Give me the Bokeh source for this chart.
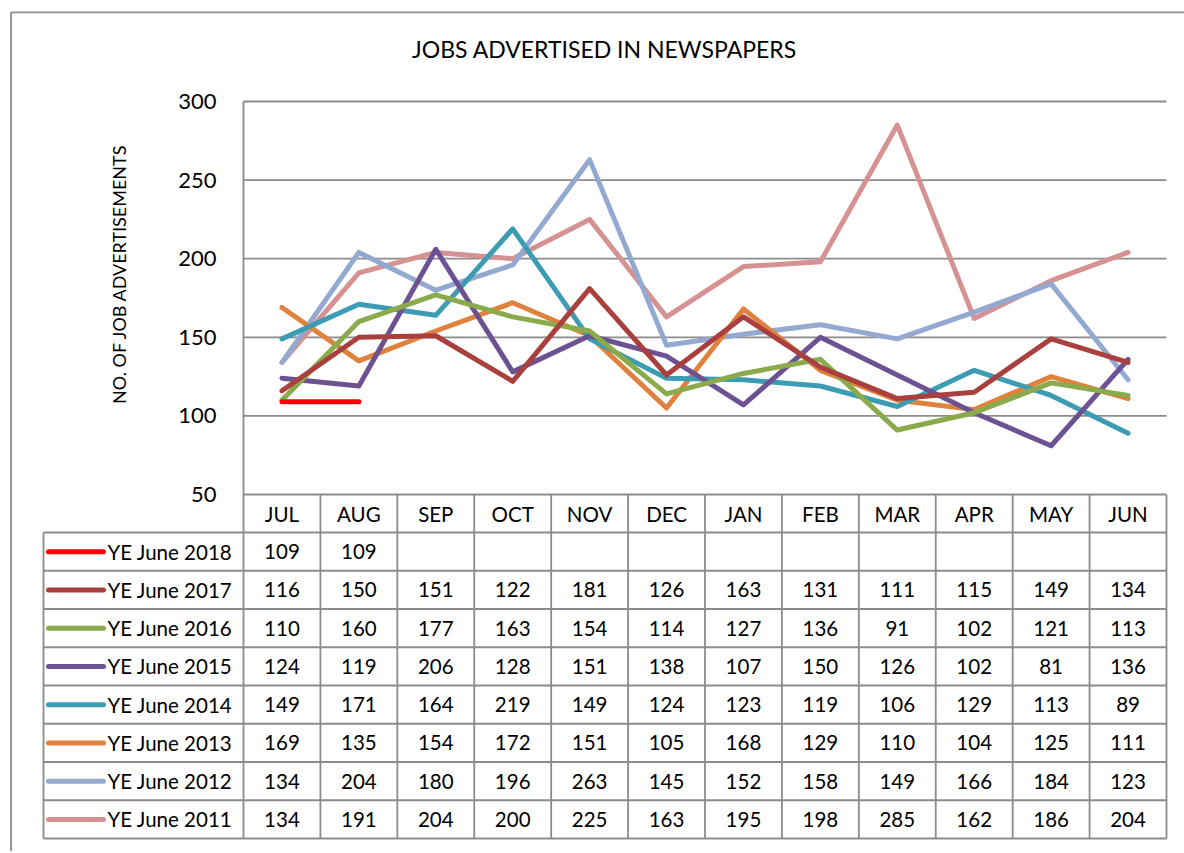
import math
from bokeh.plotting import figure
from bokeh.models import Range1d, ColumnDataSource
from bokeh.embed import file_html
from bokeh.resources import INLINE
from bokeh.core.properties import value

# ---------------- data ----------------
months = ["JUL", "AUG", "SEP", "OCT", "NOV", "DEC", "JAN", "FEB", "MAR", "APR", "MAY", "JUN"]
series_names = ["YE June 2018", "YE June 2017", "YE June 2016", "YE June 2015",
                "YE June 2014", "YE June 2013", "YE June 2012", "YE June 2011"]
ye2018 = [109, 109, None, None, None, None, None, None, None, None, None, None]
ye2017 = [116, 150, 151, 122, 181, 126, 163, 131, 111, 115, 149, 134]
ye2016 = [110, 160, 177, 163, 154, 114, 127, 136, 91, 102, 121, 113]
ye2015 = [124, 119, 206, 128, 151, 138, 107, 150, 126, 102, 81, 136]
ye2014 = [149, 171, 164, 219, 149, 124, 123, 119, 106, 129, 113, 89]
ye2013 = [169, 135, 154, 172, 151, 105, 168, 129, 110, 104, 125, 111]
ye2012 = [134, 204, 180, 196, 263, 145, 152, 158, 149, 166, 184, 123]
ye2011 = [134, 191, 204, 200, 225, 163, 195, 198, 285, 162, 186, 204]
series_values = [ye2018, ye2017, ye2016, ye2015, ye2014, ye2013, ye2012, ye2011]
colors = ["#FF0000", "#A9403D", "#8BAA4B", "#6D5293", "#3C9CB4", "#E0823D", "#93A9D0", "#D69293"]
y_ticks = [50, 100, 150, 200, 250, 300]
chart_title = "JOBS ADVERTISED IN NEWSPAPERS"
y_title = "NO. OF JOB ADVERTISEMENTS"

# ---------------- style / layout (reference pixel geometry) ----------------
FONT = "Lato"
GRID = "#8c8c8c"
TXT = "#000000"
W, H = 1184, 851
FR_L, FR_R, FR_T, FR_B = 243, 1166, 101, 494   # plot area
HDR_B = 532                                     # bottom of month header row
TBL_L, TBL_B = 43, 838                          # data table extent
Y0, Y1 = y_ticks[0], y_ticks[-1]
NM = len(months)
cw = (FR_R - FR_L) / NM                # px per month
ppu = (FR_B - FR_T) / (Y1 - Y0)        # px per value unit


def xd(px):  # page pixel -> data x
    return 0.5 + (px - FR_L) / cw


def yd(py):  # page pixel -> data y
    return Y0 + (FR_B - py) / ppu


x_idx = list(range(1, NM + 1))
XL, XR = 0.5, NM + 0.5

p = figure(width=W, height=H,
           x_range=Range1d(xd(0), xd(W)), y_range=Range1d(yd(H), yd(0)),
           output_backend="svg", toolbar_location=None,
           x_axis_location=None, y_axis_location=None,
           min_border=0)
p.min_border_left = p.min_border_right = p.min_border_top = p.min_border_bottom = 0
p.outline_line_color = None
p.grid.visible = False
p.background_fill_color = "white"
p.border_fill_color = "white"

# ---------------- value axis: gridlines, tick labels, titles ----------------
p.segment(x0=[XL] * len(y_ticks), y0=y_ticks, x1=[XR] * len(y_ticks), y1=y_ticks,
          line_color=GRID, line_width=1.8)
p.text(x=[xd(216)] * len(y_ticks), y=y_ticks, text=[str(t) for t in y_ticks],
       text_align="right", text_baseline="middle", text_font=value(FONT),
       text_font_size="22px", text_color=TXT)
p.text(x=[xd(118)], y=[yd(273.5)], text=[y_title], angle=math.pi / 2,
       text_align="center", text_baseline="middle", text_font=value(FONT),
       text_font_size="18px", text_color=TXT)
p.text(x=[xd(604)], y=[yd(48)], text=[chart_title], text_align="center",
       text_baseline="middle", text_font=value(FONT), text_font_size="23px",
       text_color=TXT)

# ---------------- series lines ----------------
for name, vals, col in reversed(list(zip(series_names, series_values, colors))):
    ys = [float("nan") if v is None else v for v in vals]
    p.line(x=x_idx, y=ys, line_color=col, line_width=5,
           line_cap="round", line_join="round")

# ---------------- data table under the chart ----------------
nrows = len(series_names)
rh = (TBL_B - HDR_B) / nrows
row_edges = [HDR_B + k * rh for k in range(nrows + 1)]
row_centers = [yd(HDR_B + (k + 0.5) * rh) for k in range(nrows)]
y_bottom = yd(TBL_B)

gx0, gy0, gx1, gy1 = [], [], [], []
for py in row_edges:                              # horizontal rules
    gx0.append(xd(TBL_L)); gx1.append(XR)
    gy0.append(yd(py)); gy1.append(yd(py))
gx0.append(xd(TBL_L)); gx1.append(xd(TBL_L))      # left edge of legend column
gy0.append(yd(HDR_B)); gy1.append(y_bottom)
gx0.append(XL); gx1.append(XL)                    # value axis line, down through table
gy0.append(Y1); gy1.append(y_bottom)
for j in range(1, NM + 1):                        # column rules
    gx0.append(j + 0.5); gx1.append(j + 0.5)
    gy0.append(Y0); gy1.append(y_bottom)
# outer chart border (left and top edges)
gx0 += [xd(10.5), xd(10.5)]; gx1 += [xd(10.5), xd(W + 20)]
gy0 += [yd(11.8), yd(11.8)]; gy1 += [yd(H + 20), yd(11.8)]
p.segment(x0=gx0, y0=gy0, x1=gx1, y1=gy1, line_color=GRID, line_width=1.8)

# month header
p.text(x=x_idx, y=[yd((FR_B + HDR_B) / 2)] * NM, text=months, text_align="center",
       text_baseline="middle", text_font=value(FONT), text_font_size="20.5px",
       text_color=TXT)

# legend column
leg_src = ColumnDataSource(dict(x0=[xd(48)] * nrows, x1=[xd(103)] * nrows,
                                y=row_centers, c=colors,
                                tx=[xd(107)] * nrows, t=series_names))
p.segment(x0="x0", y0="y", x1="x1", y1="y", source=leg_src, line_color="c",
          line_width=5, line_cap="round")
p.text(x="tx", y="y", text="t", source=leg_src, text_align="left",
       text_baseline="middle", text_font=value(FONT), text_font_size="20.5px",
       text_color=TXT)

# values
tx, ty, tt = [], [], []
for r, vals in enumerate(series_values):
    for c, v in enumerate(vals):
        if v is not None:
            tx.append(x_idx[c])
            ty.append(row_centers[r])
            tt.append(str(v))
val_src = ColumnDataSource(dict(x=tx, y=ty, t=tt))
p.text(x="x", y="y", text="t", source=val_src, text_align="center",
       text_baseline="middle", text_font=value(FONT), text_font_size="20.5px",
       text_color=TXT)

open("out.html", "w").write(file_html(p, INLINE))
